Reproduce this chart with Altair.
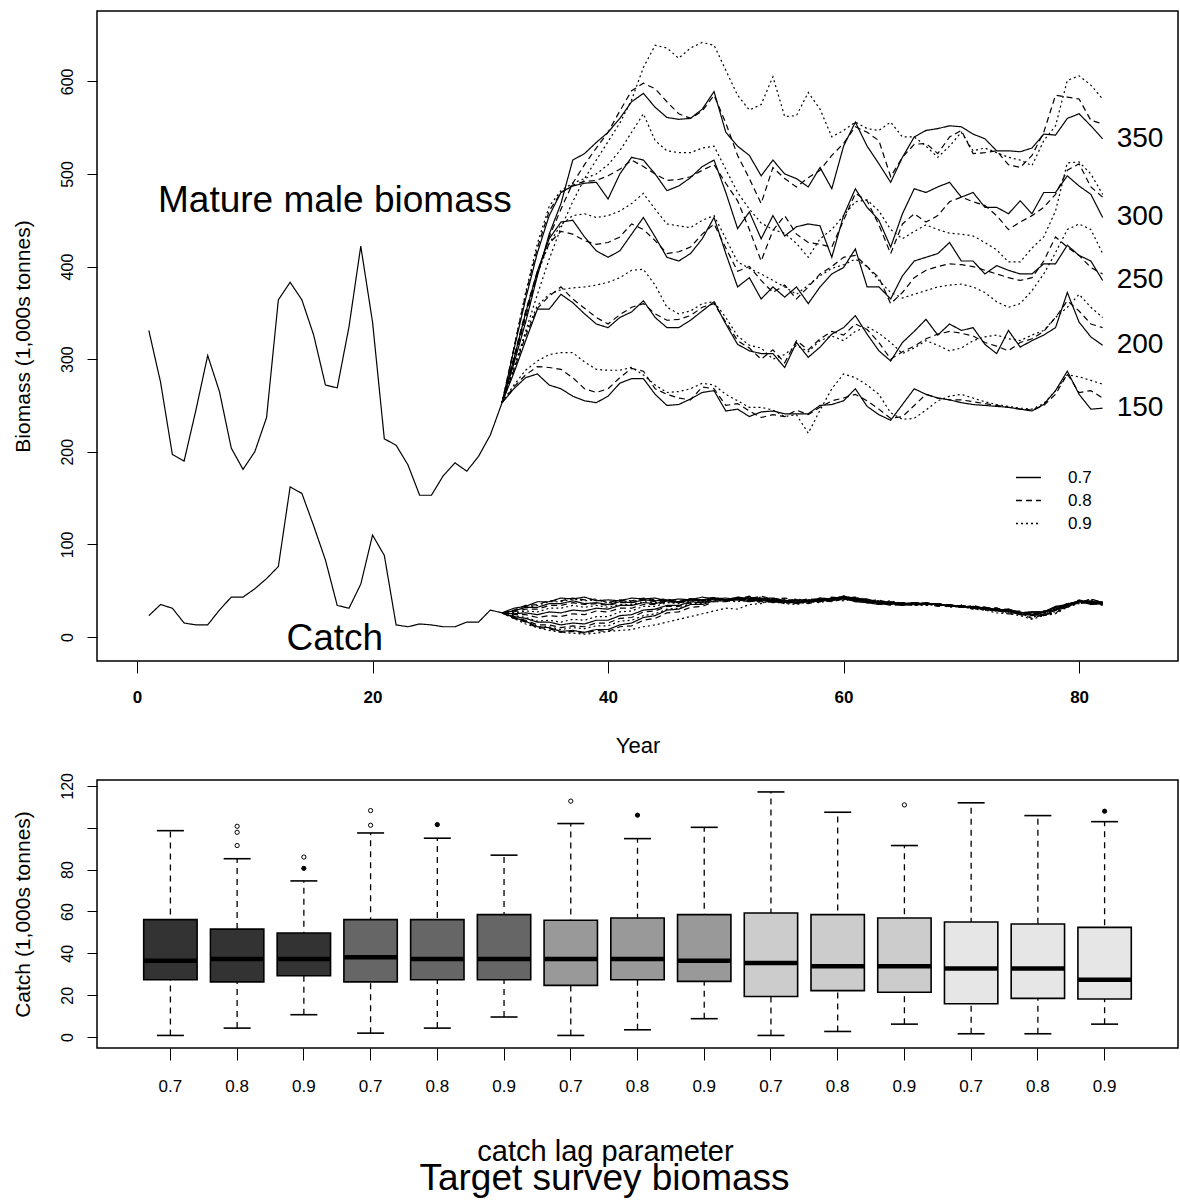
import altair as alt
import pandas as pd

FONT = "Liberation Sans"

# ---------------- data: top panel ----------------
hist_years = list(range(1, 32))
hist_biomass = [331, 275, 197, 190, 245, 304, 265, 204, 181, 200, 237, 364, 383, 364, 326, 272, 269, 335, 422, 340,
                214, 207, 186, 153, 153, 174, 188, 179, 195, 218, 253]
hist_catch = [23, 35, 31, 15, 13, 13, 29, 43, 43, 52, 63, 76, 162, 155, 120, 83, 34, 31, 57, 110,
              88, 13, 11, 14, 13, 11, 11, 16, 16, 29, 26]

proj_years = list(range(31, 83))
targets = ["150", "200", "250", "300", "350"]
lags = ["0.7", "0.8", "0.9"]

bio_150_07 = [253,268,280,284,272,268,260,255,253,260, 274,279,279,262,250,251,257,264,266,244, 246,238,243,244,241,241,241,250,251,255, 268,249,240,234,251,268,262,258,256,253, 251,250,249,248,246,244,251,266,287,262, 246,247]
bio_150_08 = [253,270,283,292,291,289,280,268,264,268, 280,290,287,268,262,258,256,270,268,250, 252,244,237,240,238,245,240,248,255,258, 262,255,246,236,238,250,262,258,256,256, 254,252,250,248,246,245,250,262,284,264, 266,258]
bio_150_09 = [253,272,288,298,305,307,307,297,289,288, 288,291,283,272,264,265,268,274,272,262, 255,248,248,245,238,240,220,245,268,284, 280,272,262,242,235,236,245,255,260,262, 258,254,251,249,247,246,252,266,283,281, 277,273]
bio_200_07 = [253,285,320,354,354,370,361,349,338,334, 345,351,363,345,334,334,342,352,362,338, 316,309,306,306,291,318,302,313,327,334, 347,327,309,298,318,330,343,326,338,331, 334,316,306,331,313,320,326,334,372,340, 324,315]
bio_200_08 = [253,288,325,355,368,378,365,355,345,338, 348,356,360,349,342,343,347,356,360,340, 320,312,300,310,296,320,310,322,330,326, 338,332,318,300,308,314,322,327,330,328, 325,318,314,309,318,322,330,345,363,352, 338,334]
bio_200_09 = [253,290,328,358,370,375,377,378,380,383, 388,396,397,380,356,349,352,360,362,345, 325,315,312,300,305,315,308,320,325,320, 330,335,328,318,306,312,320,315,309,312, 320,324,326,322,320,326,331,345,356,370, 356,345]
bio_250_07 = [253,300,350,395,430,448,450,432,417,410, 417,435,453,432,410,406,414,430,453,414, 378,388,365,378,367,378,360,378,392,399, 419,378,378,365,390,406,410,414,426,406, 406,392,401,396,392,392,403,403,423,412, 406,385]
bio_250_08 = [253,302,352,395,425,438,435,428,424,426, 432,446,440,428,414,416,421,435,446,420, 395,400,385,372,380,365,378,392,400,410, 412,400,388,360,372,388,396,400,403,402, 400,396,392,388,385,388,406,432,421,412, 399,392]
bio_250_09 = [253,300,348,392,425,445,455,457,453,455, 460,468,479,462,446,444,442,450,455,430, 405,398,392,385,378,370,380,390,398,402, 408,400,385,372,366,370,374,378,380,381, 378,372,362,356,360,374,392,415,440,446, 440,414]
bio_300_07 = [253,310,365,415,455,480,487,490,491,473, 500,518,515,500,482,487,496,508,515,480, 441,459,430,455,433,443,446,444,410,455, 484,464,450,421,457,484,480,486,491,475, 480,464,464,457,471,457,480,480,498,487, 478,453]
bio_300_08 = [253,312,370,420,460,480,488,492,493,498, 505,515,508,500,493,494,497,504,510,490, 471,440,406,439,455,435,426,424,421,450, 479,471,445,414,446,457,448,455,470,475, 470,466,455,440,448,455,464,478,504,511, 486,475]
bio_300_09 = [253,312,372,425,465,482,490,495,500,510, 525,545,565,536,525,523,523,528,530,505, 480,462,447,440,436,425,410,430,440,455, 470,472,460,440,430,438,445,440,436,435, 433,426,418,405,405,420,432,460,512,513, 500,478]
bio_350_07 = [253,295,340,390,435,468,515,522,534,545, 560,578,587,572,561,559,560,570,589,545, 530,520,498,515,500,495,486,507,484,530, 556,530,511,491,518,540,547,549,552,551, 543,538,525,525,524,528,543,542,560,565, 552,538]
bio_350_08 = [253,298,345,392,432,462,490,510,528,545, 568,590,598,592,578,565,560,568,585,555, 520,495,468,507,495,486,496,504,520,533, 551,545,536,497,518,532,533,522,540,547, 522,523,525,510,507,520,545,585,583,581, 558,554]
bio_350_09 = [253,290,330,370,408,442,470,495,515,535, 555,580,615,639,636,625,636,642,639,612, 585,569,575,605,562,563,588,570,540,547, 556,549,547,556,540,540,530,518,530,545, 525,528,523,518,515,509,536,552,601,606, 596,581]

catch_150_07 = [26,31,33,38,38,42,41,43,39,40, 39,42,41,42,39,41,40,43,41,42, 40,38,40,37,39,36,38,40,39,42, 38,37,35,36,34,37,35,36,33,34, 31,32,29,30,26,27,27,32,34,39, 35,36]
catch_150_08 = [26,29,34,35,39,39,42,40,41,37, 40,39,42,40,41,38,41,40,43,40, 41,39,38,39,36,38,36,39,38,41, 40,37,37,34,35,34,36,33,34,32, 33,30,31,27,27,24,28,29,35,36, 37,34]
catch_150_09 = [26,28,32,34,38,38,41,39,40,37, 39,38,41,39,40,38,41,40,42,39, 38,40,37,38,36,35,38,37,40,39, 41,37,38,35,36,34,34,35,32,33, 30,31,28,29,25,25,25,30,32,38, 36,37]
catch_200_07 = [26,28,32,32,36,36,39,36,37,35, 38,37,40,39,40,38,41,40,42,40, 42,39,40,38,39,37,39,38,42,41, 39,39,36,37,34,37,35,36,33,34, 31,32,29,30,26,27,27,33,35,39, 36,36]
catch_200_08 = [26,27,30,30,34,34,37,35,36,34, 37,37,40,38,40,38,41,39,42,40, 40,41,39,40,37,38,37,40,39,42, 41,37,38,35,36,34,37,34,35,32, 34,31,31,28,28,24,28,30,36,37, 38,35]
catch_200_09 = [26,26,28,27,31,31,34,32,34,32, 35,35,38,37,39,38,40,39,42,40, 42,40,41,38,39,37,38,38,41,40, 42,38,36,37,34,36,34,36,33,34, 31,32,29,29,25,25,25,31,33,38, 37,37]
catch_250_07 = [26,25,26,24,27,26,29,28,31,30, 34,34,37,36,39,37,40,39,42,40, 41,42,39,40,37,39,38,41,40,43, 39,39,36,37,35,37,35,36,33,34, 31,32,29,29,26,26,26,32,34,39, 36,37]
catch_250_08 = [26,24,24,21,23,22,25,24,28,27, 31,31,35,35,38,37,40,39,42,40, 43,40,41,39,40,37,39,38,42,41, 42,38,38,35,36,35,37,34,35,32, 33,30,31,27,27,23,27,29,36,37, 38,35]
catch_250_09 = [26,23,21,17,18,16,19,18,22,22, 27,28,33,33,37,36,39,38,41,40, 41,43,40,41,38,39,38,41,40,43, 40,40,37,38,35,37,35,36,33,34, 31,32,28,29,24,24,24,30,33,39, 37,38]
catch_300_07 = [26,22,20,16,16,13,15,14,18,18, 23,24,29,30,34,34,38,37,41,40, 43,41,42,39,40,37,40,39,42,42, 42,38,39,36,37,35,37,34,35,32, 33,30,30,27,27,23,27,29,36,38, 39,35]
catch_300_08 = [26,21,18,13,13,10,12,11,15,15, 20,21,27,28,33,33,37,37,40,40, 41,44,41,42,39,40,38,41,41,44, 40,40,37,38,35,37,35,36,33,34, 31,31,28,28,24,24,24,30,33,40, 37,38]
catch_300_09 = [26,20,17,11,11,8,10,9,12,12, 17,18,23,25,30,31,36,36,40,39, 42,41,43,40,41,38,40,39,42,41, 43,39,39,36,37,35,37,34,35,32, 32,29,29,26,25,21,25,27,34,38, 40,36]
catch_350_07 = [26,21,17,11,10,6,7,5,8,8, 13,15,21,23,29,30,35,35,39,39, 40,43,41,42,39,40,39,42,41,44, 41,41,37,38,35,37,35,36,33,34, 31,31,28,28,24,24,23,29,32,39, 38,38]
catch_350_08 = [26,20,16,10,9,5,6,4,7,6, 11,12,18,20,26,27,32,33,38,38, 41,41,44,41,42,39,41,40,43,42, 43,39,40,36,37,35,37,34,35,32, 32,29,29,25,25,20,24,26,33,37, 41,37]
catch_350_09 = [26,20,14,10,7,5,4,3,4,6, 7,8,11,13,16,19,22,25,28,31, 30,35,36,40,39,41,39,42,41,44, 42,40,38,39,36,37,35,36,33,33, 30,29,26,25,23,19,23,25,32,36, 41,37]

bio_lines = {
    ("150", "0.7"): bio_150_07, ("150", "0.8"): bio_150_08, ("150", "0.9"): bio_150_09,
    ("200", "0.7"): bio_200_07, ("200", "0.8"): bio_200_08, ("200", "0.9"): bio_200_09,
    ("250", "0.7"): bio_250_07, ("250", "0.8"): bio_250_08, ("250", "0.9"): bio_250_09,
    ("300", "0.7"): bio_300_07, ("300", "0.8"): bio_300_08, ("300", "0.9"): bio_300_09,
    ("350", "0.7"): bio_350_07, ("350", "0.8"): bio_350_08, ("350", "0.9"): bio_350_09,
}
catch_lines = {
    ("150", "0.7"): catch_150_07, ("150", "0.8"): catch_150_08, ("150", "0.9"): catch_150_09,
    ("200", "0.7"): catch_200_07, ("200", "0.8"): catch_200_08, ("200", "0.9"): catch_200_09,
    ("250", "0.7"): catch_250_07, ("250", "0.8"): catch_250_08, ("250", "0.9"): catch_250_09,
    ("300", "0.7"): catch_300_07, ("300", "0.8"): catch_300_08, ("300", "0.9"): catch_300_09,
    ("350", "0.7"): catch_350_07, ("350", "0.8"): catch_350_08, ("350", "0.9"): catch_350_09,
}

annot_text = ["Mature male biomass", "Catch"]
annot_year = [16.8, 16.8]
annot_value = [471, -2]

# ---------------- data: bottom panel ----------------
box_target = [t for t in targets for _ in lags]
box_lag = lags * 5
box_lo = [0.8, 4.3, 10.7, 1.9, 4.3, 9.6, 0.8, 3.5, 8.8, 0.8, 2.7, 6.2, 1.6, 1.6, 6.2]
box_q1 = [27.4, 26.4, 29.3, 26.4, 27.4, 27.4, 24.7, 27.4, 26.6, 19.4, 22.2, 21.4, 15.9, 18.5, 18.2]
box_med = [36.5, 37.3, 37.3, 38.1, 37.3, 37.3, 37.3, 37.3, 36.5, 35.4, 33.8, 33.8, 32.8, 32.8, 27.4]
box_q3 = [56.1, 51.6, 49.7, 56.1, 56.1, 58.5, 55.8, 56.9, 58.5, 59.3, 58.5, 56.9, 55.0, 54.0, 52.4]
box_hi = [98.6, 85.2, 74.6, 97.5, 95.0, 86.9, 102.0, 94.8, 100.2, 117.1, 107.4, 91.5, 111.9, 105.8, 102.9]
out_box = [2, 2, 2, 3, 3, 4, 4, 5, 7, 8, 12, 15]
out_val = [91.5, 97.8, 100.7, 86.0, 80.6, 101.2, 108.2, 101.5, 112.7, 106.0, 110.9, 107.9]
out_filled = [False, False, False, False, True, False, False, True, False, True, False, True]
box_colors = ["#333333", "#666666", "#999999", "#CCCCCC", "#E6E6E6"]

# ---------------- build tables ----------------
rows = []
for yr, v in zip(hist_years, hist_biomass):
    rows.append(dict(series="hist_bio", year=yr, value=v, lag="0.7"))
for yr, v in zip(hist_years, hist_catch):
    rows.append(dict(series="hist_catch", year=yr, value=v, lag="0.7"))
for (t, l), vals in bio_lines.items():
    for yr, v in zip(proj_years, vals):
        rows.append(dict(series=f"bio_{t}_{l}", year=yr, value=v, lag=l))
for (t, l), vals in catch_lines.items():
    for yr, v in zip(proj_years, vals):
        rows.append(dict(series=f"catch_{t}_{l}", year=yr, value=v, lag=l))
lines_df = pd.DataFrame(rows)

end_df = pd.DataFrame({
    "label": targets,
    "year": [proj_years[-1]] * len(targets),
    "value": [bio_lines[(t, "0.7")][-1] for t in targets],
})
annot_df = pd.DataFrame({"text": annot_text, "year": annot_year, "value": annot_value})

box_df = pd.DataFrame({
    "box": list(range(1, 16)), "target": box_target, "lag": box_lag,
    "lo": box_lo, "q1": box_q1, "med": box_med, "q3": box_q3, "hi": box_hi,
})
out_df = pd.DataFrame({"box": out_box, "value": out_val, "filled": out_filled})

# ---------------- top chart ----------------
W = 1081
xs_top = alt.Scale(domain=[-3.4, 88.4], nice=False, zero=False)
ys_top = alt.Scale(domain=[-26, 676], nice=False, zero=False)
x_axis_top = alt.Axis(values=[0, 20, 40, 60, 80], title="Year", tickSize=12, labelPadding=16,
                      labelFontSize=17, labelFontWeight="bold", titleFontSize=22, titlePadding=30,
                      labelAngle=0)
y_axis_top = alt.Axis(values=[0, 100, 200, 300, 400, 500, 600], title="Biomass (1,000s tonnes)",
                      tickSize=10, labelAngle=-90, labelAlign="center", labelBaseline="bottom",
                      labelPadding=12, labelFontSize=16, titleFontSize=21, titlePadding=26)

X_top = alt.X("year:Q", scale=xs_top, axis=x_axis_top)
Y_top = alt.Y("value:Q", scale=ys_top, axis=y_axis_top)

lines = alt.Chart(lines_df).mark_line(color="black", strokeWidth=1.2).encode(
    x=X_top, y=Y_top,
    strokeDash=alt.StrokeDash(
        "lag:N",
        scale=alt.Scale(domain=lags, range=[[1, 0], [6, 4], [2, 3]]),
        legend=alt.Legend(orient="none", legendX=918, legendY=453, title=None,
                          symbolType="stroke", symbolSize=625, symbolStrokeWidth=1.4,
                          symbolStrokeColor="black", labelFontSize=17, labelFont=FONT,
                          labelColor="black", labelOffset=26, rowPadding=1),
    ),
    detail="series:N",
)

end_labels = alt.Chart(end_df).mark_text(align="left", baseline="middle", dx=14, fontSize=28,
                                         font=FONT, color="black").encode(
    x=X_top, y=Y_top, text="label:N")

annots = alt.Chart(annot_df).mark_text(align="center", baseline="middle", fontSize=37,
                                       font=FONT, color="black").encode(
    x=X_top, y=Y_top, text="text:N")

top = alt.layer(lines, end_labels, annots).properties(width=W, height=650)

# ---------------- bottom chart ----------------
lag_expr = " : ".join(
    [f"(datum.value - 1) % 3 == {i} ? '{l}'" for i, l in enumerate(lags[:-1])]) + f" : '{lags[-1]}'"
x_axis_bot = alt.Axis(title="catch lag parameter", labelExpr=lag_expr, labelAngle=0, tickSize=12,
                      labelPadding=18, labelFontSize=17, titleFontSize=29, titlePadding=43,
                      titleX=508)
X_bot = alt.X("box:O", scale=alt.Scale(paddingInner=0, paddingOuter=0.6), axis=x_axis_bot)
ys_bot = alt.Scale(domain=[-5.2, 122.8], nice=False, zero=False)
y_axis_bot = alt.Axis(values=[0, 20, 40, 60, 80, 100, 120], title="Catch (1,000s tonnes)",
                      labelExpr="datum.value == 100 ? '' : datum.label",
                      tickSize=10, labelAngle=-90, labelAlign="center", labelBaseline="bottom",
                      labelPadding=12, labelFontSize=16, titleFontSize=21, titlePadding=26)


def Yb(field):
    return alt.Y(f"{field}:Q", scale=ys_bot, axis=y_axis_bot)


base = alt.Chart(box_df)
whisk = base.mark_rule(color="black", strokeWidth=1.3, strokeDash=[6, 5]).encode(
    x=X_bot, y=Yb("lo"), y2="hi")
boxes = base.mark_bar(width=alt.RelativeBandSize(0.8), stroke="black", strokeWidth=1.6).encode(
    x=X_bot, y=Yb("q1"), y2="q3",
    fill=alt.Fill("target:N", scale=alt.Scale(domain=targets, range=box_colors), legend=None))
cap_lo = base.mark_tick(color="black", size=27, thickness=1.6, opacity=1).encode(x=X_bot, y=Yb("lo"))
cap_hi = base.mark_tick(color="black", size=27, thickness=1.6, opacity=1).encode(x=X_bot, y=Yb("hi"))
meds = base.mark_tick(color="black", size=53, thickness=4.5, opacity=1).encode(x=X_bot, y=Yb("med"))
outs = alt.Chart(out_df).mark_point(shape="circle", size=18, strokeWidth=1, color="black",
                                    opacity=1).encode(
    x=X_bot, y=Yb("value"),
    fill=alt.condition("datum.filled", alt.value("black"), alt.value("white")))

bottom = alt.layer(whisk, boxes, cap_lo, cap_hi, meds, outs).properties(
    width=W, height=268,
    title=alt.TitleParams("Target survey biomass", orient="bottom", fontSize=37, font=FONT,
                          fontWeight="normal", color="black", anchor="middle", dx=-33, offset=-5),
)

chart = alt.vconcat(top, bottom, spacing=14).properties(
    padding={"left": 11, "top": 10, "right": 0, "bottom": 0}
).configure_axis(
    domain=False, grid=False, tickColor="black", tickWidth=1, labelColor="black",
    titleColor="black", labelFont=FONT, titleFont=FONT, titleFontWeight="normal",
).configure_view(stroke="black", strokeWidth=1.5)

chart.save("out.html", embed_options={"renderer": "svg", "actions": False})
